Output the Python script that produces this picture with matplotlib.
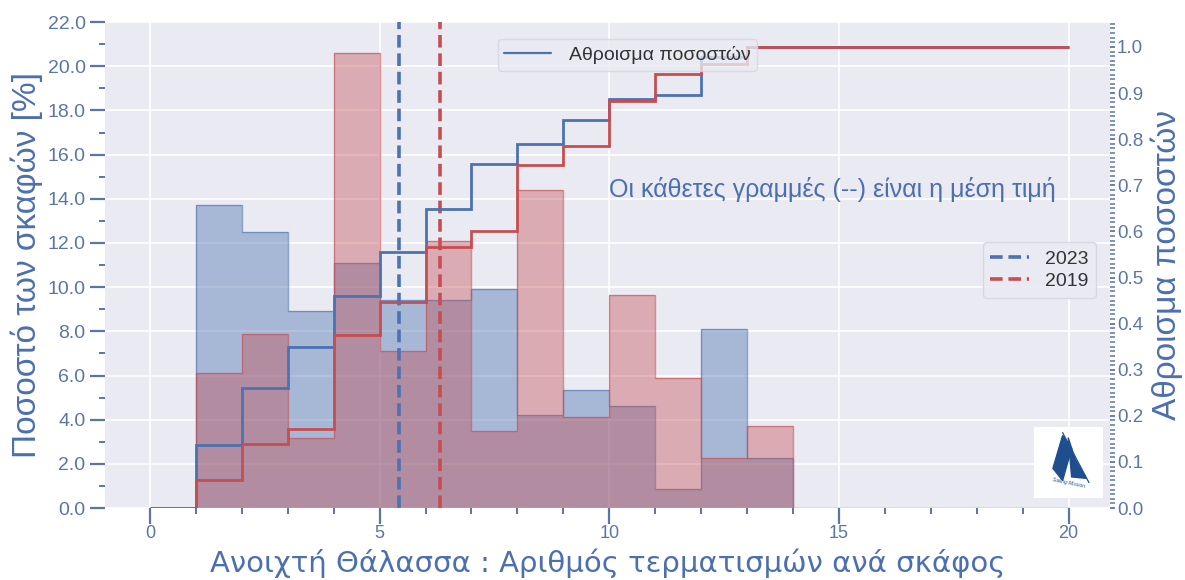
import numpy as np
import matplotlib
matplotlib.use("Agg")
import matplotlib.pyplot as plt
import seaborn as sns
from matplotlib.ticker import MultipleLocator, FormatStrFormatter

# ποσοστά ανά αριθμό τερματισμών (bin [n, n+1))
akmes = np.arange(0, 21)
pososto_2023 = [0.0, 13.7, 12.5, 8.9, 11.1, 9.4, 9.4, 9.9, 4.2, 5.35,
                4.6, 0.85, 8.1, 2.27, 0, 0, 0, 0, 0, 0]
pososto_2019 = [0.0, 6.1, 7.9, 3.15, 20.6, 7.1, 12.1, 3.5, 14.4, 4.1,
                9.65, 5.9, 2.27, 3.7, 0, 0, 0, 0, 0, 0]
mesi_timi_2023 = 5.43
mesi_timi_2019 = 6.32

mple = "#4C72B0"
kokkino = "#C44E52"
xroma_keimenou = "#4C6FAF"
xroma_tick = "#5B75A5"

sns.set_style("darkgrid")
plt.rcParams['font.family'] = ['Liberation Sans', 'DejaVu Sans']

fig = plt.figure(figsize=(11.85, 5.8), dpi=100)
ax = fig.add_axes([0.0886, 0.124, 0.848, 0.838])
ax.set_facecolor("#EAEAF2")

# ιστογράμματα
ax.stairs(pososto_2023, akmes, fill=True, color=mple, alpha=0.42, lw=0)
ax.stairs(pososto_2023, akmes, color=mple, alpha=0.6, lw=1)
ax.stairs(pososto_2019, akmes, fill=True, color=kokkino, alpha=0.4, lw=0)
ax.stairs(pososto_2019, akmes, color=kokkino, alpha=0.6, lw=1)

# μέσες τιμές
l1 = ax.axvline(mesi_timi_2023, color=mple, lw=2.6, ls=(0, (3.5, 1.6)), label="2023")
l2 = ax.axvline(mesi_timi_2019, color=kokkino, lw=2.6, ls=(0, (3.5, 1.6)), label="2019")

ax.text(10.0, 14.4, "Οι κάθετες γραμμές (--) είναι η μέση τιμή", color=xroma_keimenou,
        fontsize=18, va="center", ha="left")

ax.set_xlim(-0.98, 20.9)
ax.set_ylim(0, 22)
ax.yaxis.set_major_locator(MultipleLocator(2))
ax.yaxis.set_minor_locator(MultipleLocator(1))
ax.yaxis.set_major_formatter(FormatStrFormatter("%.1f"))
ax.xaxis.set_major_locator(MultipleLocator(5))
ax.xaxis.set_minor_locator(MultipleLocator(1))
ax.grid(True, which="major", color="white", lw=1.2)
ax.grid(False, which="minor")
for s in ax.spines.values():
    s.set_visible(False)
ax.tick_params(axis="y", which="major", length=11, width=1.6, color=xroma_tick,
               labelcolor=xroma_tick, labelsize=14, pad=3, left=True)
ax.tick_params(axis="y", which="minor", length=4, width=1.4, color=xroma_tick, left=True)
ax.tick_params(axis="x", which="major", length=11.5, width=1.6, color=xroma_tick,
               labelcolor=xroma_tick, labelsize=13, pad=1, bottom=True)
ax.tick_params(axis="x", which="minor", length=4, width=1.4, color=xroma_tick, bottom=True)
ax.set_xlabel("Ανοιχτή Θάλασσα : Αριθμός τερματισμών ανά σκάφος", fontsize=21,
              color=xroma_keimenou, va="baseline", family="DejaVu Sans")
ax.xaxis.set_label_coords(0.5, -0.1317)
ax.set_ylabel("Ποσοστό των σκαφών [%]", fontsize=24, color=xroma_keimenou)
ax.yaxis.set_label_coords(-0.062, 0.5)

leg2 = ax.legend(handles=[l1, l2], loc="upper right", bbox_to_anchor=(0.996, 0.567),
                 fontsize=14, facecolor="#EAEAF2", edgecolor="#D5D5DE", framealpha=0.9,
                 handlelength=2.0, borderpad=0.4, labelspacing=0.25, handletextpad=0.8)
for t in leg2.get_texts():
    t.set_color("#333333")

# αθροιστικό ποσοστό
ax2 = ax.twinx()
athroisma_2023 = np.cumsum(pososto_2023) / np.sum(pososto_2023)
athroisma_2019 = np.cumsum(pososto_2019) / np.sum(pososto_2019)
s1 = ax2.stairs(athroisma_2023, akmes, baseline=None, color=mple, lw=2,
                label="Αθροισμα ποσοστών")
ax2.stairs(athroisma_2019, akmes, baseline=None, color=kokkino, lw=2)
ax2.set_ylim(0, 1.054)
ax2.grid(False)
for s in ax2.spines.values():
    s.set_visible(False)
ax2.yaxis.set_major_locator(MultipleLocator(0.1))
ax2.yaxis.set_minor_locator(MultipleLocator(0.01))
ax2.yaxis.set_major_formatter(FormatStrFormatter("%.1f"))
ax2.tick_params(axis="y", which="major", length=3.5, width=1.3, color=xroma_tick,
                labelcolor=xroma_tick, labelsize=13.5, pad=1.5, right=True)
ax2.tick_params(axis="y", which="minor", length=3.5, width=1.1, color=xroma_tick, right=True)
ax2.set_ylabel("Αθροισμα ποσοστών", fontsize=24, color=xroma_keimenou, labelpad=5)

leg1 = ax2.legend(handles=[s1], loc="upper left", bbox_to_anchor=(0.381, 0.985),
                  fontsize=14, facecolor="#EAEAF2", edgecolor="#D5D5DE", framealpha=0.8,
                  handlelength=2.4, borderpad=0.35, handletextpad=0.9)
for t in leg1.get_texts():
    t.set_color("#333333")
leg1.get_lines()[0].set_linewidth(1.6)

# λογότυπο
logo = ax.inset_axes([0.924, 0.02, 0.069, 0.147])
logo.set_facecolor("white")
logo.set_xlim(0, 1)
logo.set_ylim(0, 1)
logo.set_xticks([])
logo.set_yticks([])
for s in logo.spines.values():
    s.set_visible(False)
logo.fill([0.42, 0.28, 0.42, 0.55], [0.88, 0.42, 0.25, 0.7], color="#1F4E8C")
logo.fill([0.5, 0.55, 0.76, 0.6], [0.85, 0.3, 0.28, 0.55], color="#1F4E8C")
logo.plot([0.42, 0.8], [0.92, 0.22], color="#1F4E8C", lw=0.9)
logo.text(0.5, 0.15, "Sailing Mission", fontsize=3.5, color="#1F4E8C", ha="center",
          rotation=-12, style="italic")

plt.savefig("out.png", dpi=100)
